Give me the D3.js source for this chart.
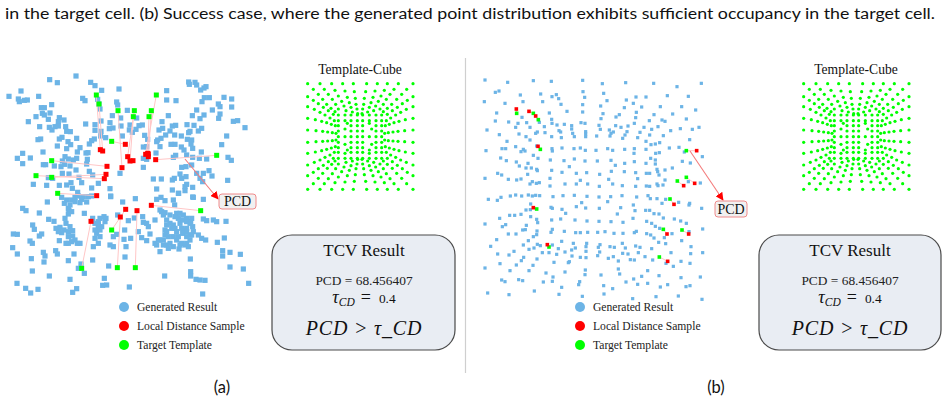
<!DOCTYPE html>
<html><head><meta charset="utf-8">
<script src="https://cdnjs.cloudflare.com/ajax/libs/d3/7.8.5/d3.min.js"></script>
<style>html,body{margin:0;padding:0;background:#fff;overflow:hidden}svg{display:block}</style>
</head><body><svg id="c" width="947" height="404"></svg>
<script>
// ---- text ----
const captionLine = "in the target cell. (b) Success case, where the generated point distribution exhibits sufficient occupancy in the target cell.";
const panelLabels = ["(a)", "(b)"];
const legendLabels = ["Generated Result", "Local Distance Sample", "Target Template"];
const templateTitle = "Template-Cube";
const resultTitle = "TCV Result";
const pcdReadout = "PCD = 68.456407";
const pcdLabel = "PCD";

// ---- panel (a) points, read in picture units: upper part ----
const aBlueUpper = [[228,78],[149,89],[172,98],[272,97],[285,107],[305,121],[357,117],[27,139],[63,123],[116,139],[55,147],[58,155],[73,151],[82,150],[155,164],[124,173],[133,173],[127,190],[150,189],[108,200],[133,195],[145,208],[85,215],[178,203],[192,210],[175,215],[119,230],[148,232],[156,240],[165,230],[175,228],[197,230],[200,244],[211,245],[122,267],[114,269],[230,265],[186,262],[178,267],[204,275],[172,288],[212,284],[200,296],[129,306],[240,293],[232,306],[258,309],[264,308],[68,310],[52,325],[91,324],[68,341],[130,344],[137,344],[248,145],[255,152],[293,148],[297,162],[300,177],[350,156],[353,165],[337,197],[382,181],[257,222],[303,213],[285,224],[285,241],[303,244],[330,218],[328,236],[362,204],[363,228],[339,234],[367,258],[302,258],[317,263],[283,267],[275,272],[268,282],[390,225],[388,240],[397,247],[410,204],[417,227],[427,225],[408,238],[434,256],[443,268],[430,291],[440,290],[470,275],[480,290],[473,270],[486,215],[505,197],[500,122],[500,150],[528,152],[468,309],[488,235],[477,240],[510,243],[517,228],[527,226],[497,255],[483,265],[524,255],[544,258],[562,268],[575,270],[573,282],[578,295],[525,283],[513,283],[544,291],[552,300],[560,315],[566,96],[568,103],[585,97],[590,105],[618,110],[612,114],[602,120],[613,143],[628,143],[606,155],[655,162],[660,170],[637,180],[590,180],[577,197],[612,195],[600,206],[660,192],[656,205],[695,147],[672,142],[695,171],[700,214],[713,212],[735,233],[680,258],[665,284],[561,224],[582,226],[570,244],[566,248],[595,243],[605,235],[604,306],[578,322],[598,325],[620,327],[684,322],[694,331],[520,322],[527,316],[430,325],[440,328],[430,352],[545,352],[558,350],[575,345],[540,372],[545,385],[558,380],[590,370],[610,370],[627,362],[636,378],[600,385],[523,385],[517,390],[460,387],[484,387],[470,417],[517,420],[536,430],[555,410],[560,403],[578,412],[608,395],[683,391],[195,320],[187,333],[205,327],[220,330],[230,325],[262,328],[260,342],[163,348],[183,350],[194,343],[210,348],[228,360],[187,370],[207,372],[268,364],[278,375],[237,382],[145,383],[158,385],[295,400],[245,398],[213,398],[200,405],[140,406],[100,403],[178,406],[217,415],[275,414],[330,416],[360,370],[332,440],[233,427],[250,440],[265,440],[578,441]];
const aBlueLower = [[142,36],[185,22],[193,40],[215,30],[225,22],[235,18],[245,28],[260,36],[275,18],[332,18],[368,36],[406,26],[470,28],[483,22],[495,32],[520,30],[524,45],[535,10],[580,22],[610,28],[555,2],[207,62],[205,72],[195,85],[253,70],[118,69],[68,55],[78,62],[146,88],[162,94],[98,105],[103,118],[168,115],[180,112],[192,120],[185,128],[218,122],[218,138],[205,140],[125,132],[118,138],[40,132],[52,133],[278,85],[300,85],[312,80],[318,85],[295,105],[295,117],[290,130],[300,140],[285,145],[295,160],[280,170],[232,160],[205,160],[198,160],[178,152],[90,153],[97,160],[38,173],[52,192],[130,187],[135,198],[167,182],[172,192],[222,192],[94,206],[132,216],[205,212],[278,210],[243,222],[235,235],[253,250],[97,243],[148,258],[210,268],[51,280],[77,295],[92,309],[114,298],[230,296],[218,307],[313,265],[320,285],[308,286],[388,291],[326,228],[375,201],[378,170],[372,148],[392,145],[330,165],[340,170],[340,140],[350,133],[374,120],[385,92],[403,84],[428,80],[353,75],[415,125],[425,143],[440,152],[450,132],[465,160],[480,185],[475,150],[490,150],[500,165],[505,175],[537,177],[545,160],[560,160],[570,150],[595,135],[605,145],[617,150],[652,157],[673,144],[668,182],[668,198],[690,187],[721,193],[571,207],[690,231],[730,237],[494,258],[572,245],[572,258],[588,268],[600,270],[615,271],[746,280],[608,312],[678,94],[650,95],[640,90],[620,92],[610,87],[430,97],[440,100],[445,110],[465,90],[485,65],[490,75],[500,90],[510,100],[520,105],[530,70],[540,70],[550,75],[560,85],[570,100],[578,110],[580,125],[570,135],[560,115],[550,120],[540,100],[525,115],[500,125],[495,135],[520,140],[530,150],[548,130],[560,140],[575,85],[480,60],[495,68],[510,75],[525,80],[535,85],[548,90],[560,95],[572,95],[500,105],[515,115],[530,125],[545,115],[560,125],[575,135],[495,120],[505,140],[535,140],[555,165],[540,165],[565,170],[480,150],[470,165],[490,165],[510,160],[520,170],[200,30],[210,45],[225,35],[240,38],[205,55],[215,65],[198,100],[210,110],[175,125],[205,125],[225,150],[240,160],[215,155],[285,120],[300,120],[315,95],[285,100],[295,95],[305,110]];
// green x, green y, red x, red y
const aPairsUpper = [[289,135,301,299],[297,162,308,303],[354,182,366,353],[403,182,383,320],[400,200,390,333],[469,135,437,313],[454,182,445,320],[447,200,443,310],[335,274,376,283],[155,332,321,349],[108,377,313,386],[155,382,318,373],[650,316,467,329],[173,430,290,437]];
const aPairsLower = [[602,62,454,46],[352,233,361,81],[406,233,411,62],[245,235,273,94],[335,120,377,58]];
const aExtraRed = [[399,332],[445,312]];

// ---- panel (b) points ----
const bBlueUpper = [[30,30],[98,37],[175,32],[229,34],[323,31],[382,41],[452,38],[536,40],[606,50],[679,40],[61,67],[72,63],[136,75],[197,72],[231,80],[244,74],[251,86],[324,65],[329,82],[386,70],[396,92],[28,95],[90,100],[144,95],[203,95],[258,103],[323,104],[377,108],[454,90],[483,81],[513,81],[577,77],[640,79],[475,100],[448,113],[500,111],[556,110],[620,110],[662,120],[65,129],[141,142],[223,129],[276,124],[323,126],[384,131],[433,134],[423,141],[484,127],[482,143],[537,134],[593,132],[634,147],[61,153],[101,156],[129,160],[155,158],[193,157],[230,148],[231,160],[246,165],[268,163],[290,167],[318,158],[330,160],[378,146],[372,166],[422,167],[438,172],[478,160],[459,168],[523,152],[561,150],[570,154],[549,170],[530,178],[507,172],[587,182],[616,176],[652,178],[672,172],[36,180],[122,172],[165,172],[208,170],[252,182],[290,177],[332,185],[376,178],[403,180],[73,194],[132,192],[187,186],[182,190],[210,188],[293,190],[257,186],[332,192],[365,198],[408,190],[415,186],[456,185],[450,195],[495,187],[524,195],[565,197],[153,200],[165,210],[230,200],[259,203],[298,200],[332,200],[405,198],[443,205],[488,203],[513,214],[528,224],[541,222],[554,218],[644,209],[96,214],[122,230],[185,228],[231,236],[232,243],[261,234],[297,236],[316,234],[331,241],[363,241],[398,236],[413,241],[449,238],[478,236],[477,250],[513,238],[542,250],[553,248],[583,234],[612,232],[628,246],[33,242],[81,236],[92,236],[138,245],[145,238],[150,243],[175,256],[189,265],[226,270],[267,272],[298,267],[330,273],[367,273],[408,271],[421,286],[449,280],[478,275],[527,265],[541,270],[541,282],[513,280],[622,274],[646,279],[682,260],[77,264],[94,272],[124,276],[133,288],[159,280],[153,294],[169,294],[185,298],[187,302],[230,301],[261,307],[283,290],[304,310],[335,308],[374,313],[409,304],[448,305],[482,308],[514,310],[524,310],[546,298],[548,305],[570,300],[592,294],[552,315],[30,325],[68,310],[80,315],[100,328],[125,330],[138,327],[158,313],[172,335],[165,342],[184,340],[193,338],[225,325],[225,348],[270,342],[304,342],[316,331],[338,342],[373,349],[401,328],[413,342],[442,347],[482,349],[488,326],[514,348],[524,349],[546,342],[549,347],[564,345],[570,330],[676,339],[640,335]];
const bBlueLower = [[40,28],[67,31],[78,22],[106,18],[122,15],[140,18],[160,15],[172,18],[182,16],[194,17],[234,20],[264,17],[298,16],[336,19],[372,21],[407,20],[441,17],[485,21],[519,17],[526,26],[546,26],[561,40],[572,28],[611,37],[644,40],[642,45],[167,42],[153,60],[166,59],[232,55],[228,52],[261,58],[272,70],[304,50],[320,38],[332,54],[373,55],[398,35],[437,53],[427,72],[475,45],[480,62],[512,61],[524,61],[537,71],[552,72],[565,84],[474,85],[680,55],[74,85],[104,76],[119,76],[138,73],[167,80],[185,88],[188,98],[230,90],[257,87],[300,90],[336,93],[372,94],[408,95],[444,97],[515,94],[530,100],[541,109],[554,115],[598,87],[617,93],[634,100],[683,117],[30,102],[82,110],[92,104],[154,106],[151,119],[143,120],[186,123],[232,118],[228,127],[268,124],[302,128],[316,128],[338,127],[368,127],[390,125],[417,130],[444,130],[478,128],[484,124],[515,131],[527,135],[591,131],[568,143],[642,125],[175,140],[185,134],[100,132],[123,132],[65,149],[47,169],[145,165],[160,152],[187,163],[196,167],[232,165],[260,154],[250,176],[295,160],[290,180],[301,174],[335,160],[333,170],[333,184],[375,164],[370,172],[374,186],[405,170],[418,172],[442,160],[451,174],[482,168],[495,172],[537,144],[551,157],[572,161],[620,152],[648,170],[68,192],[102,195],[117,184],[162,178],[177,174],[202,188],[222,188],[245,193],[270,186],[291,198],[316,202],[333,203],[368,197],[400,205],[415,200],[443,190],[459,192],[490,188],[530,176],[510,200],[588,188],[647,191],[683,188],[146,202],[139,212],[186,207],[75,221],[124,225],[174,226],[237,217],[283,215],[280,218],[430,213],[466,209],[478,210],[533,210],[573,220],[595,229],[618,214],[645,220],[30,234],[105,242],[162,242],[213,249],[270,246],[331,240],[330,254],[378,255],[430,237],[434,252],[518,242],[552,257],[234,261],[232,274],[205,276],[80,270],[90,275],[131,269],[143,272],[314,275],[311,284],[453,276],[476,267],[500,259],[488,283],[518,280],[578,284],[556,291],[618,263],[676,261],[633,290],[645,287],[260,292],[386,287],[413,296],[38,309],[102,314],[178,303],[252,313],[322,319],[387,312],[473,326],[543,320],[610,318],[681,328]];
const bPairsUpper = [[125,130,124,117],[175,130,162,124],[190,149,182,138],[196,238,189,229],[634,242,665,242],[607,333,626,347],[634,322,659,340]];
const bPairsLower = [[585,27,597,43],[185,57,175,53],[565,118,576,132],[621,120,641,132],[222,171,217,164],[553,201,578,214]];

// ---- template cube points ----
const templatePoints = [
[113,86],[130,103],[145,118],[158,133],[170,148],[183,160],[195,170],
[429,86],[410,103],[395,118],[380,133],[365,148],[352,160],[340,170],
[113,403],[130,386],[145,370],[158,355],[172,340],[185,328],[195,318],
[429,403],[410,386],[395,370],[380,355],[367,340],[352,328],[340,318],
[150,86],[163,103],[175,118],[187,133],[197,148],[205,162],
[185,86],[195,106],[205,123],[215,139],[222,153],[228,167],
[218,86],[225,108],[232,127],[238,143],[243,157],[247,171],
[250,86],[253,110],[256,130],[258,148],[261,162],[263,176],
[290,86],[287,110],[283,130],[281,148],[278,162],[276,176],
[322,86],[315,108],[309,127],[303,143],[298,157],[293,171],
[352,86],[343,106],[333,123],[325,139],[317,153],[311,167],
[385,86],[372,103],[360,118],[349,133],[340,148],[330,162],
[150,403],[163,386],[175,371],[187,356],[197,341],[205,327],
[185,403],[195,383],[205,366],[215,350],[222,336],[228,322],
[218,403],[225,381],[232,362],[238,346],[243,332],[247,318],
[250,403],[253,379],[256,359],[258,341],[261,327],[263,313],
[290,403],[287,379],[283,359],[281,341],[278,327],[276,313],
[322,403],[315,381],[309,362],[303,346],[298,332],[293,318],
[352,403],[343,383],[333,366],[325,350],[317,336],[311,322],
[385,403],[372,386],[360,371],[349,356],[340,341],[330,327],
[113,125],[130,136],[145,146],[160,157],[175,167],[190,178],
[113,155],[133,163],[150,172],[165,180],[180,189],[193,197],
[113,190],[136,194],[155,199],[170,203],[184,208],[196,212],
[113,225],[138,227],[158,229],[173,231],[187,233],[198,235],
[113,262],[138,260],[158,259],[173,258],[187,257],[198,255],
[113,295],[136,291],[155,287],[170,283],[184,279],[196,275],
[113,330],[133,322],[150,315],[165,307],[180,300],[193,292],
[113,362],[130,352],[145,341],[160,331],[175,320],[190,310],
[429,125],[412,136],[397,146],[382,157],[367,167],[352,178],
[429,155],[409,163],[392,172],[377,180],[362,189],[349,197],
[429,190],[406,194],[387,199],[372,203],[358,208],[346,212],
[429,225],[404,227],[384,229],[369,231],[355,233],[344,235],
[429,262],[404,260],[384,259],[369,258],[355,257],[344,255],
[429,295],[406,291],[387,287],[372,283],[358,279],[346,275],
[429,330],[409,322],[392,315],[377,307],[362,300],[349,292],
[429,362],[412,352],[397,341],[382,331],[367,320],[352,310],
[205,180],[225,180],[243,180],[262,180],[278,180],[298,180],[318,180],[335,180],
[205,197],[225,197],[243,197],[262,197],[278,197],[298,197],[318,197],[335,197],
[205,212],[232,205],[243,212],[262,212],[278,212],[298,205],[318,212],[335,212],
[205,228],[225,222],[243,228],[262,228],[278,228],[305,222],[318,228],[335,228],
[205,245],[225,245],[243,245],[262,245],[278,245],[298,245],[318,245],[335,245],
[205,262],[225,268],[243,262],[262,262],[278,262],[305,268],[318,262],[335,262],
[205,278],[232,285],[243,278],[262,278],[278,278],[298,285],[318,278],[335,278],
[205,292],[225,295],[243,292],[262,292],[278,292],[298,295],[318,292],[335,292],
[205,310],[225,310],[243,310],[262,310],[278,310],[298,310],[318,310],[335,310]
];

// ---- styles ----
const BLUE="#6cb4e6", RED="#ff0000", GREEN="#00ff00", LINK="#ffc6c6", ARROW="#f47c7c";
const SERIF="'Liberation Serif',serif", SANS="Lato,'Open Sans',sans-serif";

const svg = d3.select("#c");
const defs = svg.append("defs");
defs.append("filter").attr("id","soft").attr("x","-5%").attr("y","-5%").attr("width","110%").attr("height","110%")
  .append("feGaussianBlur").attr("stdDeviation",0.45);
defs.append("marker").attr("id","head").attr("viewBox","0 0 10 10").attr("refX",9).attr("refY",5)
  .attr("markerWidth",8).attr("markerHeight",8).attr("markerUnits","userSpaceOnUse").attr("orient","auto")
  .append("path").attr("d","M0,0L10,5L0,10Z").attr("fill",RED);

// caption
svg.append("text").attr("x",5).attr("y",18.5).attr("font-family",SANS).attr("font-size",15.5)
  .attr("textLength",930).attr("lengthAdjust","spacingAndGlyphs").attr("fill","#111").text(captionLine);
panelLabels.forEach((t,i)=>svg.append("text").attr("x",[222,716][i]).attr("y",393).attr("text-anchor","middle")
  .attr("font-family",SANS).attr("font-size",16.5).attr("fill","#111").text(t));
svg.append("line").attr("x1",465.5).attr("x2",465.5).attr("y1",58).attr("y2",373).attr("stroke","#cfcfcf").attr("stroke-width",1.2);

function scatter(cfg){
  const g = svg.append("g").attr("filter","url(#soft)");
  const x = d3.scaleLinear().domain(cfg.xDomain).range(cfg.xRange);
  const yU = d3.scaleLinear().domain(cfg.yUDomain).range(cfg.yURange);
  const yL = d3.scaleLinear().domain(cfg.yLDomain).range(cfg.yLRange);
  const sq = (sel,data,y,s,c)=>sel.selectAll(null).data(data).join("rect")
     .attr("x",d=>x(d[0])-s/2).attr("y",d=>y(d[1])-s/2).attr("width",s).attr("height",s).attr("fill",c);
  sq(g.append("g"),cfg.blueU,yU,cfg.size,BLUE);
  sq(g.append("g"),cfg.blueL,yL,cfg.size,BLUE);
  const pairs = (list,y)=>{
    g.append("g").selectAll("line").data(list).join("line")
      .attr("x1",d=>x(d[0])).attr("y1",d=>y(d[1])).attr("x2",d=>x(d[2])).attr("y2",d=>y(d[3]))
      .attr("stroke",LINK).attr("stroke-width",1);
    sq(g.append("g"),list,y,cfg.pairSize,GREEN);
    sq(g.append("g"),list.map(d=>[d[2],d[3]]),y,cfg.pairSize,RED);
  };
  pairs(cfg.pairsU,yU); pairs(cfg.pairsL,yL);
  if(cfg.extraRed) sq(g.append("g"),cfg.extraRed,yU,cfg.pairSize,RED);
}
scatter({xDomain:[0,810],xRange:[0,270],yUDomain:[0,450],yURange:[50,200],yLDomain:[0,510],yLRange:[190,360],
  blueU:aBlueUpper,blueL:aBlueLower,pairsU:aPairsUpper,pairsL:aPairsLower,extraRed:aExtraRed,size:5.2,pairSize:5});
scatter({xDomain:[0,840],xRange:[475,755],yUDomain:[0,390],yURange:[70,200],yLDomain:[0,510],yLRange:[190,360],
  blueU:bBlueUpper,blueL:bBlueLower,pairsU:bPairsUpper,pairsL:bPairsLower,size:3.2,pairSize:3.6});

// arrows & PCD tags
[{l:[185,159,218,199],b:[219,194,37,15]},{l:[690,151,723,200],b:[715,201,32,16]}].forEach(o=>{
  svg.append("line").attr("x1",o.l[0]).attr("y1",o.l[1]).attr("x2",o.l[2]).attr("y2",o.l[3])
    .attr("stroke",ARROW).attr("stroke-width",1.1).attr("marker-end","url(#head)");
  svg.append("rect").attr("x",o.b[0]).attr("y",o.b[1]).attr("width",o.b[2]).attr("height",o.b[3]).attr("rx",3)
    .attr("fill","#f1f1f1").attr("stroke","#f08a8a").attr("stroke-width",1);
  svg.append("text").attr("x",o.b[0]+o.b[2]/2).attr("y",o.b[1]+o.b[3]/2+4.6).attr("text-anchor","middle")
    .attr("font-family",SERIF).attr("font-size",14).attr("fill","#111").text(pcdLabel);
});

// template cubes
[{x0:270,title:360},{x0:766,title:856}].forEach(o=>{
  const x=d3.scaleLinear().domain([0,600]).range([o.x0,o.x0+200]);
  const y=d3.scaleLinear().domain([0,450]).range([55,205]);
  svg.append("g").attr("filter","url(#soft)").selectAll("circle").data(templatePoints).join("circle")
    .attr("cx",d=>x(d[0])).attr("cy",d=>y(d[1])).attr("r",1.6).attr("fill",GREEN);
  svg.append("text").attr("x",o.title).attr("y",74).attr("text-anchor","middle").attr("font-family",SERIF)
    .attr("font-size",13.6).attr("fill","#111").text(templateTitle);
});

// legends
[{cx:124,tx:137},{cx:580,tx:593}].forEach(o=>{
  [BLUE,RED,GREEN].forEach((c,i)=>{
    const y=307+i*19;
    svg.append("circle").attr("cx",o.cx).attr("cy",y).attr("r",5).attr("fill",c);
    svg.append("text").attr("x",o.tx).attr("y",y+3.6).attr("font-family",SERIF).attr("font-size",11.6)
      .attr("fill","#222").text(legendLabels[i]);
  });
});

// result boxes
[{x:272,w:183,cx:364},{x:759,w:182,cx:850}].forEach(o=>{
  svg.append("rect").attr("x",o.x).attr("y",235).attr("width",o.w).attr("height",115).attr("rx",20)
    .attr("fill","#e9edf3").attr("stroke","#4a4a4a").attr("stroke-width",1.2);
  svg.append("text").attr("x",o.cx).attr("y",256).attr("text-anchor","middle").attr("font-family",SERIF)
    .attr("font-size",17).attr("fill","#111").text(resultTitle);
  svg.append("text").attr("x",o.cx).attr("y",285).attr("text-anchor","middle").attr("font-family",SERIF)
    .attr("font-size",13.4).attr("fill","#222").text(pcdReadout);
  const t=svg.append("text").attr("x",o.cx).attr("y",303).attr("text-anchor","middle").attr("font-family",SERIF)
    .attr("font-size",18).attr("fill","#111");
  t.append("tspan").attr("font-style","italic").text("τ");
  t.append("tspan").attr("font-style","italic").attr("font-size",11.5).attr("dy",3).text("CD");
  t.append("tspan").attr("dy",-3).attr("dx",6).text("=");
  t.append("tspan").attr("font-size",13.4).attr("dx",8).text("0.4");
  svg.append("text").attr("x",o.cx).attr("y",335).attr("text-anchor","middle").attr("font-family",SERIF)
    .attr("font-style","italic").attr("font-size",20).attr("letter-spacing",0.8).attr("fill","#111").text("PCD > τ_CD");
});
</script></body></html>
